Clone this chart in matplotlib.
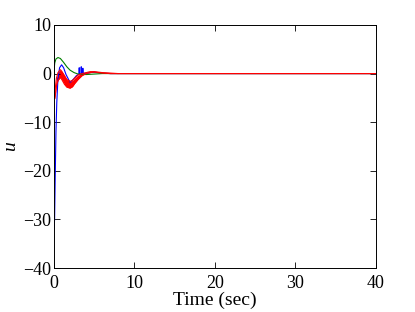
import matplotlib
matplotlib.use('Agg')
import matplotlib.pyplot as plt

plt.rcParams['font.family'] = ['Liberation Serif', 'DejaVu Serif']
plt.rcParams['mathtext.fontset'] = 'custom'
plt.rcParams['mathtext.it'] = 'Liberation Serif:italic'

# blue trajectory
t_blue = [0, 0.08, 0.15, 0.25, 0.35, 0.5, 0.7, 0.95, 1.2, 1.5, 2.0, 2.4, 2.8, 3.1, 3.14, 3.18, 3.35, 3.39, 3.43, 3.55, 3.59, 3.63, 4.0, 5.0, 6.0, 7.0, 8.0, 40]
u_blue = [-32, -30, -22, -12, -6, -1.0, 1.2, 1.8, 1.2, -0.2, -1.8, -1.2, -0.4, -0.1, 1.2, -0.1, -0.1, 1.4, -0.1, 0.0, 1.1, 0.0, 0.1, 0.3, 0.1, 0.0, 0.0, 0.0]

# green trajectory
t_green = [0, 0.1, 0.25, 0.5, 0.8, 1.2, 1.6, 2.0, 2.5, 3.0, 4.0, 5.0, 6.0, 8.0, 40]
u_green = [0.5, 2.2, 3.0, 3.3, 3.1, 2.3, 1.4, 0.7, 0.2, -0.1, -0.2, -0.1, 0.0, 0.0, 0.0]

# red band (many chattering trajectories): upper and lower envelope
t_red = [0, 0.1, 0.2, 0.3, 0.5, 0.8, 1.0, 1.3, 1.6, 2.0, 2.3, 2.6, 3.0, 3.5, 4.0, 4.5, 5.0, 6.0, 7.0, 8.0, 40]
u_red_hi = [-2.5, -3.8, -2.5, -1.0, 0.2, 0.8, 0.4, -0.4, -1.2, -1.6, -1.4, -0.9, -0.3, 0.0, 0.2, 0.4, 0.4, 0.2, 0.1, 0.0, 0.0]
u_red_lo = [-3.5, -5.2, -4.0, -2.6, -1.4, -0.8, -1.3, -2.2, -2.8, -3.0, -2.7, -2.0, -1.2, -0.4, 0.0, 0.2, 0.3, 0.1, 0.0, 0.0, 0.0]

fig = plt.figure(figsize=(4.15, 3.12), dpi=100)
ax = fig.add_axes([0.130, 0.141, 0.776, 0.779])

ax.plot(t_blue, u_blue, color='blue', lw=0.8)
ax.plot(t_green, u_green, color='#008000', lw=0.8)
ax.fill_between(t_red, u_red_lo, u_red_hi, color='red', lw=0)
ax.plot(t_red, u_red_hi, color='red', lw=0.8)
ax.plot(t_red, u_red_lo, color='red', lw=0.8)

ax.set_xlim(0, 40)
ax.set_ylim(-40, 10)
ax.set_xticks([0, 10, 20, 30, 40])
ax.set_yticks([-40, -30, -20, -10, 0, 10])
ax.set_yticklabels(['\u221240', '\u221230', '\u221220', '\u221210', '0', '10'])
ax.tick_params(direction='in', top=True, right=True, labelsize=13, length=4, width=0.6, pad=2)
ax.tick_params(axis='x', pad=5)
for s in ax.spines.values():
    s.set_linewidth(0.7)
ax.set_xlabel('Time (sec)', fontsize=14, labelpad=0)
ax.set_ylabel('$u$', fontsize=14, labelpad=2)

fig.savefig('out.png', dpi=100)
